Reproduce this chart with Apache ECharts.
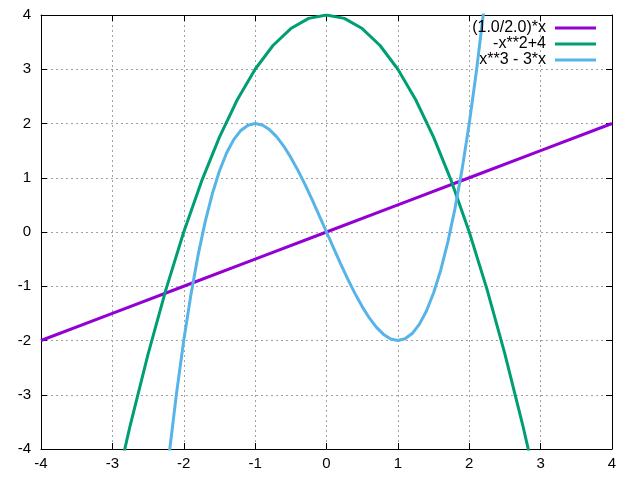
<!DOCTYPE html>
<html>
<head>
<meta charset="utf-8">
<script src="https://cdn.jsdelivr.net/npm/echarts@6/dist/echarts.min.js"></script>
<style>html,body{margin:0;padding:0;background:#fff}#c{width:640px;height:480px}</style>
</head>
<body>
<div id="c"></div>
<script>
const seriesNames = ['(1.0/2.0)*x', '-x**2+4', 'x**3 - 3*x'];
const seriesColors = ['#9400d3', '#009e73', '#56b4e9'];
const xTicks = [-4, -3, -2, -1, 0, 1, 2, 3, 4];
const yTicks = [-4, -3, -2, -1, 0, 1, 2, 3, 4];

const xLine = [-4, -3, -2, -1, 0, 1, 2, 3, 4];
const yLine = [-2, -1.5, -1, -0.5, 0, 0.5, 1, 1.5, 2];

const xPar = [-3.25, -3, -2.75, -2.5, -2.25, -2, -1.75, -1.5, -1.25, -1, -0.75, -0.5, -0.25, 0,
  0.25, 0.5, 0.75, 1, 1.25, 1.5, 1.75, 2, 2.25, 2.5, 2.75, 3, 3.25];
const yPar = [-6.5625, -5, -3.5625, -2.25, -1.0625, 0, 0.9375, 1.75, 2.4375, 3, 3.4375, 3.75, 3.9375, 4,
  3.9375, 3.75, 3.4375, 3, 2.4375, 1.75, 0.9375, 0, -1.0625, -2.25, -3.5625, -5, -6.5625];

const xCub = [-2.3, -2.2, -2.1, -2.0, -1.9, -1.8, -1.7, -1.6, -1.5, -1.4, -1.3, -1.2, -1.1, -1.0,
  -0.9, -0.8, -0.7, -0.6, -0.5, -0.4, -0.3, -0.2, -0.1, 0,
  0.1, 0.2, 0.3, 0.4, 0.5, 0.6, 0.7, 0.8, 0.9, 1.0, 1.1, 1.2, 1.3, 1.4, 1.5, 1.6, 1.7, 1.8, 1.9, 2.0, 2.1, 2.2, 2.3];
const yCub = [-5.267, -4.048, -2.961, -2, -1.159, -0.432, 0.187, 0.704, 1.125, 1.456, 1.703, 1.872, 1.969, 2,
  1.971, 1.888, 1.757, 1.584, 1.375, 1.136, 0.873, 0.592, 0.299, 0,
  -0.299, -0.592, -0.873, -1.136, -1.375, -1.584, -1.757, -1.888, -1.971, -2, -1.969, -1.872, -1.703, -1.456, -1.125, -0.704, -0.187, 0.432, 1.159, 2, 2.961, 4.048, 5.267];

const zip = (xs, ys) => xs.map((x, i) => [x, ys[i]]);
const FONT = 'Liberation Sans';
const FS = 15;

const gridLine = { show: true, lineStyle: { color: '#a0a0a0', width: 1, type: [2, 3] } };
const axisBase = {
  type: 'value', min: -4, max: 4, interval: 1,
  axisLine: { show: true, onZero: false, lineStyle: { color: '#000', width: 1 } },
  axisTick: { show: true, inside: true, length: 6, lineStyle: { color: '#000', width: 1 } },
};

const chart = echarts.init(document.getElementById('c'), null, { renderer: 'canvas' });
chart.setOption({
  animation: false,
  backgroundColor: '#fff',
  grid: { left: 41, right: 28, top: 15, bottom: 31, containLabel: false },
  legend: {
    orient: 'vertical', right: 39, top: 15, align: 'right',
    itemWidth: 41, itemHeight: 3, itemGap: 0, icon: 'rect',
    selectedMode: false,
    textStyle: { fontFamily: FONT, fontSize: 16, color: '#000', lineHeight: 15.5, padding: [0, 4, 0, 0] },
    data: seriesNames
  },
  xAxis: [
    Object.assign({}, axisBase, {
      position: 'bottom',
      axisLabel: { show: true, fontFamily: FONT, fontSize: FS, color: '#000', margin: 7,
        formatter: v => xTicks.includes(v) ? String(v) : '' },
      splitLine: gridLine
    }),
    Object.assign({}, axisBase, { position: 'top', axisLabel: { show: false }, splitLine: { show: false } })
  ],
  yAxis: [
    Object.assign({}, axisBase, {
      position: 'left',
      axisLabel: { show: true, fontFamily: FONT, fontSize: FS, color: '#000', margin: 10,
        formatter: v => yTicks.includes(v) ? String(v) : '' },
      splitLine: gridLine
    }),
    Object.assign({}, axisBase, { position: 'right', axisLabel: { show: false }, splitLine: { show: false } })
  ],
  series: [
    { name: seriesNames[0], data: zip(xLine, yLine) },
    { name: seriesNames[1], data: zip(xPar, yPar) },
    { name: seriesNames[2], data: zip(xCub, yCub) }
  ].map((s, i) => Object.assign(s, {
    type: 'line', xAxisIndex: 0, yAxisIndex: 0, showSymbol: false, symbol: 'none',
    clip: true, smooth: false,
    color: seriesColors[i],
    lineStyle: { color: seriesColors[i], width: 3 },
    itemStyle: { color: seriesColors[i] }
  }))
});
</script>
</body>
</html>
